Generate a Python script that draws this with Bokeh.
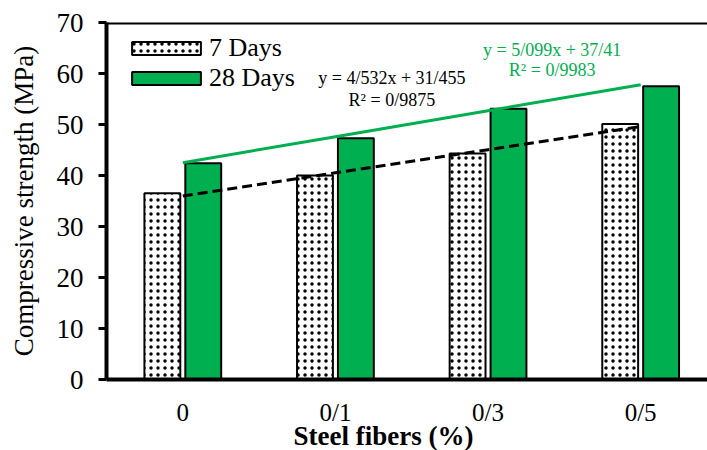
import numpy as np
from bokeh.plotting import figure
from bokeh.models import Range1d, FixedTicker, Span, Legend, LegendItem, Title
from bokeh.embed import file_html
from bokeh.resources import INLINE
from bokeh.core.properties import value

# ---- data ----
categories = ["0", "0/1", "0/3", "0/5"]
days7 = [36.5, 40.0, 44.3, 50.1]
days28 = [42.4, 47.3, 53.1, 57.5]
y_ticks = [0, 10, 20, 30, 40, 50, 60, 70]

# linear trendlines (slope, intercept) as printed on the chart
trend7 = [4.532, 31.455]
trend28 = [5.099, 37.41]
eq7_text = ["y = 4/532x + 31/455", "R² = 0/9875"]
eq28_text = ["y = 5/099x + 37/41", "R² = 0/9983"]

x_title = "Steel fibers (%)"
y_title = "Compressive strength (MPa)"

GREEN = "#00B050"
FONT = "Liberation Serif"

pos = np.arange(len(categories))

p = figure(width=707, height=450, output_backend="svg", toolbar_location=None,
           x_range=Range1d(-0.5, 3.438), y_range=Range1d(0, 70),
           min_border_left=106, min_border_right=0, min_border_top=22,
           min_border_bottom=71)
p.outline_line_color = None
p.grid.grid_line_color = None

r7 = p.vbar(x=pos - 0.134, top=days7, width=0.235, fill_color="white",
            line_color="black", line_width=2, hatch_pattern="dot",
            hatch_color="black", hatch_scale=7, hatch_weight=2.5)
r28 = p.vbar(x=pos + 0.134, top=days28, width=0.235, fill_color=GREEN,
             line_color="black", line_width=2)

t7 = trend7[0] * (pos + 1) + trend7[1]
t28 = trend28[0] * (pos + 1) + trend28[1]
p.line(pos, t7, line_color="black", line_width=3, line_dash="10 5")
p.line(pos, t28, line_color=GREEN, line_width=3)

p.text(x=[1.37, 1.37], y=[59.2, 54.9], text=eq7_text, text_font=value(FONT),
       text_font_size="18px", text_align="center", text_baseline="middle",
       text_color="black")
p.text(x=[2.42, 2.42], y=[64.7, 60.6], text=eq28_text, text_font=value(FONT),
       text_font_size="18px", text_align="center", text_baseline="middle",
       text_color=GREEN)

p.add_layout(Span(location=70, dimension="width", line_color="black", line_width=4))

# y axis
p.yaxis.ticker = FixedTicker(ticks=y_ticks)
p.yaxis.major_label_text_font = FONT
p.yaxis.major_label_text_font_size = "27px"
p.yaxis.major_label_text_color = "black"
p.yaxis.axis_line_width = 4
p.yaxis.axis_line_color = "black"
p.yaxis.major_tick_line_width = 3
p.yaxis.major_tick_line_color = "black"
p.yaxis.major_tick_out = 8
p.yaxis.major_tick_in = 0
p.yaxis.minor_tick_line_color = None
p.yaxis.major_label_standoff = 15
p.yaxis.axis_label = y_title
p.yaxis.axis_label_text_font = FONT
p.yaxis.axis_label_text_font_size = "27px"
p.yaxis.axis_label_text_font_style = "normal"
p.yaxis.axis_label_text_color = "black"
p.yaxis.axis_label_standoff = 15

# x axis
p.xaxis.ticker = FixedTicker(ticks=list(pos))
p.xaxis.major_label_overrides = {int(i): c for i, c in zip(pos, categories)}
p.xaxis.major_label_text_font = FONT
p.xaxis.major_label_text_font_size = "25px"
p.xaxis.major_label_text_color = "black"
p.xaxis.axis_line_width = 4
p.xaxis.axis_line_color = "black"
p.xaxis.major_tick_out = 0
p.xaxis.major_tick_in = 0
p.xaxis.major_tick_line_color = None
p.xaxis.minor_tick_line_color = None
p.xaxis.major_label_standoff = 19

# x-axis title, placed left of the frame centre as in the original
p.add_layout(Title(text=x_title, align="left", offset=187, standoff=-19,
                   vertical_align="bottom", text_font=FONT,
                   text_font_size="27px", text_font_style="bold",
                   text_color="black"), "below")

legend = Legend(items=[LegendItem(label="7 Days", renderers=[r7]),
                       LegendItem(label="28 Days", renderers=[r28])],
                location=(17, 286), glyph_width=86, glyph_height=16,
                label_text_font=FONT, label_text_font_size="26px",
                label_text_color="black", spacing=0, padding=0, margin=0,
                border_line_color=None, background_fill_alpha=0,
                label_standoff=0)
p.add_layout(legend)

open("out.html", "w").write(file_html(p, INLINE))
